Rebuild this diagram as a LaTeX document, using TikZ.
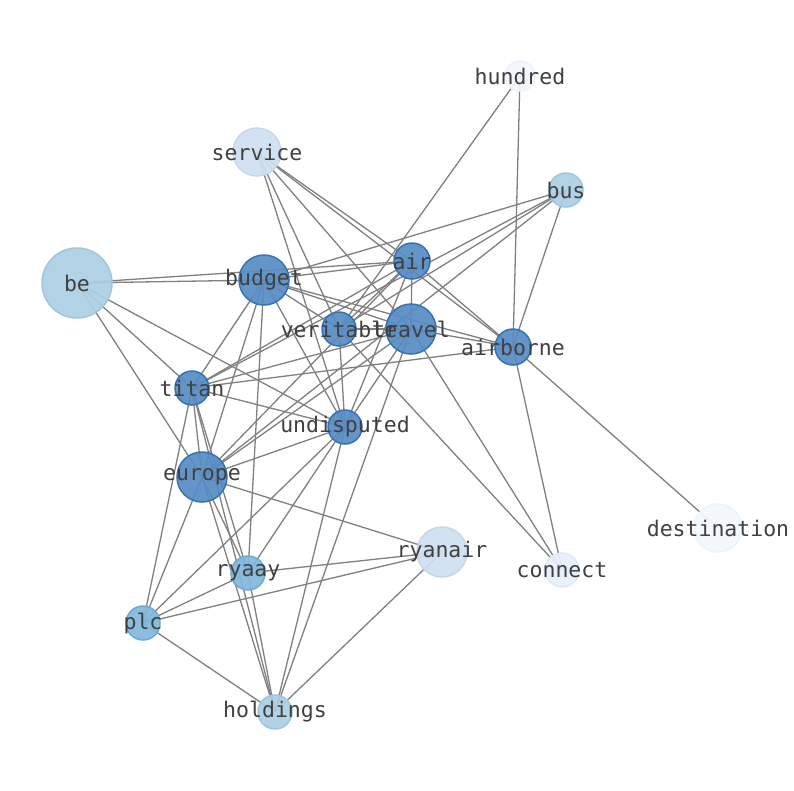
\documentclass[tikz,border=0pt]{standalone}
\usepackage{fontspec}
\setmonofont{DejaVu Sans Mono}
\begin{document}
\begin{tikzpicture}[x=1pt,y=-1pt,
  n/.style={circle,inner sep=0pt,minimum size=#1*2pt,line width=1.5pt,fill opacity=0.92},
  c1/.style={fill={rgb,255:red,86;green,140;blue,196},draw={rgb,255:red,52;green,114;blue,182}},
  c2/.style={fill={rgb,255:red,130;green,185;blue,220},draw={rgb,255:red,110;green,170;blue,212}},
  c3/.style={fill={rgb,255:red,172;green,207;blue,228},draw={rgb,255:red,158;green,198;blue,224}},
  c4/.style={fill={rgb,255:red,207;green,224;blue,241},draw={rgb,255:red,196;green,216;blue,237}},
  c5/.style={fill={rgb,255:red,231;green,239;blue,249},draw={rgb,255:red,224;green,234;blue,246}},
  c6/.style={fill={rgb,255:red,244;green,248;blue,253},draw={rgb,255:red,238;green,244;blue,251}},
  lab/.style={font=\fontsize{21.5}{21.5}\ttfamily,text={rgb,255:red,64;green,64;blue,64}},
  e/.style={draw={rgb,255:red,128;green,128;blue,128},line width=1.3pt}]
\useasboundingbox (0,0) rectangle (794,790);
\path[fill=white] (0,0) rectangle (794,790);
\foreach \m/\x/\y in {hundred/520/76,service/257/152,bus/566/190,be/77/283,budget/264/280,air/412/261,veritable/339/329,travel/411/329,airborne/513/347,titan/192/388,undisputed/345/427,europe/202/477,destination/718/528,ryanair/442/552,connect/562/570,ryaay/248/573,plc/143/623,holdings/275/712}
  \coordinate (\m) at (\x,\y);
\foreach \a/\b in {be/budget,be/air,be/titan,be/europe,be/undisputed,
 hundred/veritable,hundred/airborne,
 service/veritable,service/travel,service/air,service/airborne,service/undisputed,
 bus/budget,bus/veritable,bus/titan,bus/europe,bus/airborne,
 air/budget,air/veritable,air/titan,air/europe,air/travel,air/airborne,air/undisputed,
 budget/travel,budget/airborne,budget/titan,budget/europe,budget/ryaay,budget/undisputed,budget/veritable,
 travel/airborne,travel/veritable,travel/titan,travel/europe,travel/undisputed,travel/holdings,travel/connect,
 airborne/titan,airborne/destination,airborne/connect,veritable/connect,
 titan/undisputed,titan/europe,titan/plc,titan/ryaay,titan/holdings,
 undisputed/europe,undisputed/plc,undisputed/ryaay,undisputed/holdings,undisputed/veritable,
 europe/plc,europe/ryaay,europe/holdings,europe/ryanair,
 ryaay/ryanair,ryaay/plc,ryaay/holdings,plc/ryanair,plc/holdings,ryanair/holdings}
 \draw[e] (\a) -- (\b);
\node[n=15,c6] (nhundred) at (hundred) {};
\node[n=24,c4] (nservice) at (service) {};
\node[n=17,c3] (nbus) at (bus) {};
\node[n=35,c3] (nbe) at (be) {};
\node[n=25,c1] (nbudget) at (budget) {};
\node[n=18,c1] (nair) at (air) {};
\node[n=17,c1] (nveritable) at (veritable) {};
\node[n=25,c1] (ntravel) at (travel) {};
\node[n=18,c1] (nairborne) at (airborne) {};
\node[n=17,c1] (ntitan) at (titan) {};
\node[n=17,c1] (nundisputed) at (undisputed) {};
\node[n=25,c1] (neurope) at (europe) {};
\node[n=24,c6] (ndestination) at (destination) {};
\node[n=25,c4] (nryanair) at (ryanair) {};
\node[n=17,c5] (nconnect) at (connect) {};
\node[n=17,c2] (nryaay) at (ryaay) {};
\node[n=17,c2] (nplc) at (plc) {};
\node[n=17,c3] (nholdings) at (holdings) {};
\foreach \m in {hundred,service,bus,be,budget,air,veritable,travel,airborne,titan,undisputed,europe,destination,ryanair,connect,ryaay,plc,holdings}
  \node[lab] (t\m) at (\m) {\m};
\end{tikzpicture}
\end{document}
